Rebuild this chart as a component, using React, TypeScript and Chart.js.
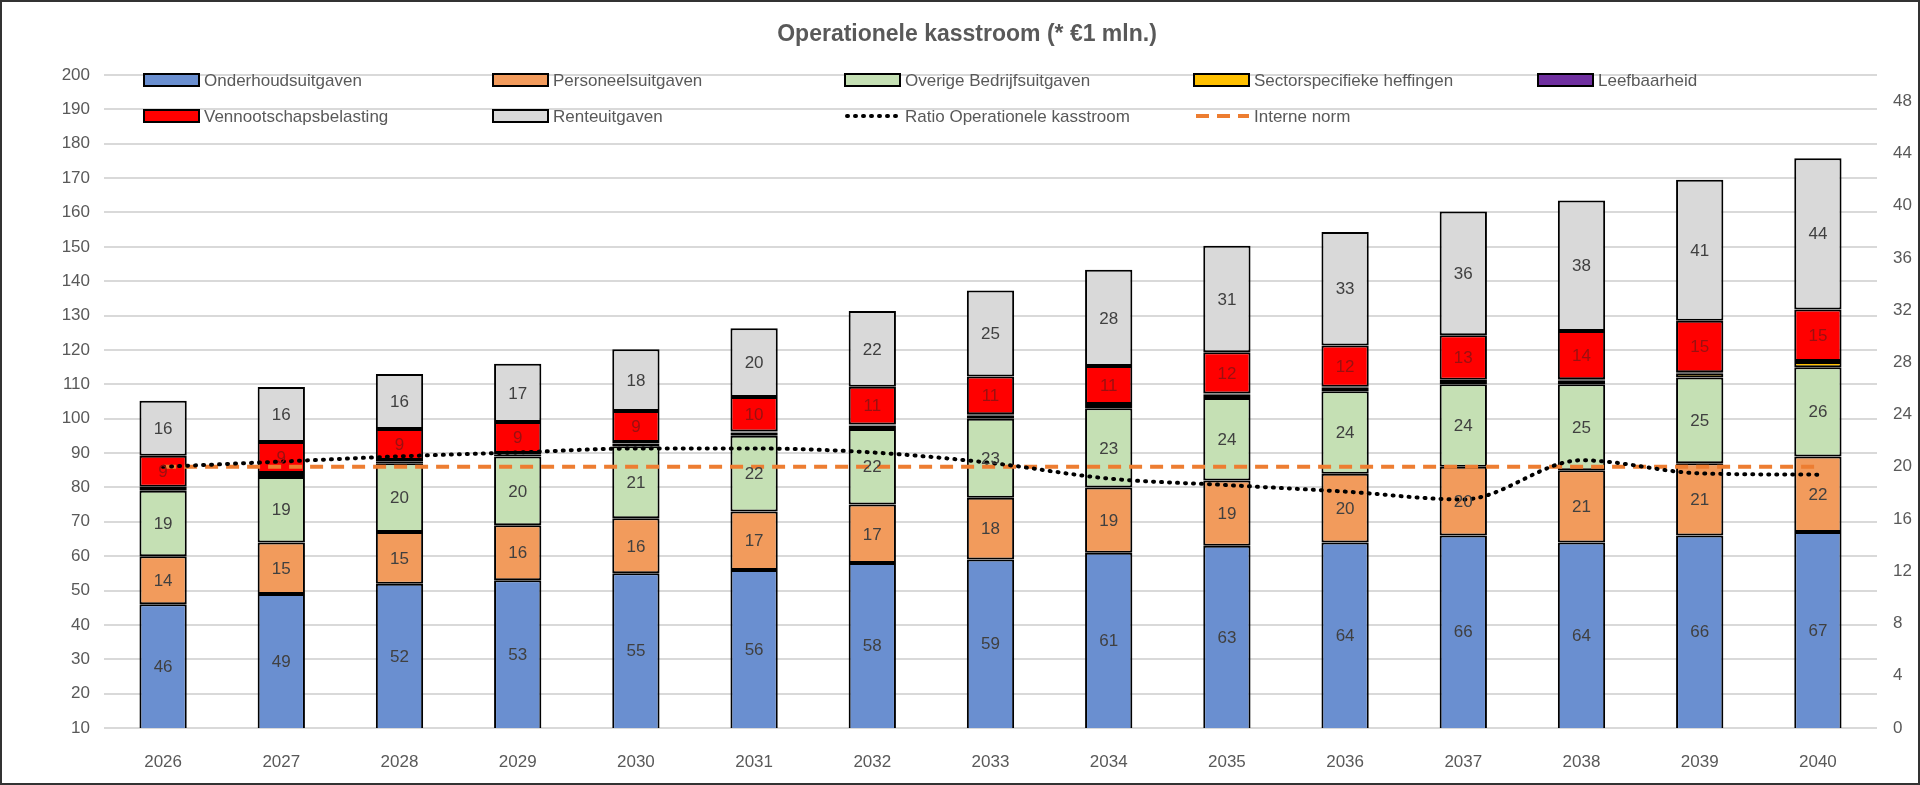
import React, { useEffect, useRef } from "react";
import { Chart, registerables } from "chart.js";
Chart.register(...registerables);

const years = ["2026","2027","2028","2029","2030","2031","2032","2033","2034","2035","2036","2037","2038","2039","2040"];
const onderhoud = [46,49,52,53,55,56,58,59,61,63,64,66,64,66,67];
const personeel = [14,15,15,16,16,17,17,18,19,19,20,20,21,21,22];
const overige = [19,19,20,20,21,22,22,23,23,24,24,24,25,25,26];
const sector = [0.8,0.6,0.5,0.5,0.8,1,1,1,1,1,1,1,1.2,1.2,1.5];
const leefbaarheid = [0.4,0.6,0.5,0.5,0.4,0.3,0.3,0.3,0.3,0.3,0.3,0.3,0.3,0.3,0.3];
const vennootschap = [9,9,9,9,9,10,11,11,11,12,12,13,14,15,15];
const rente = [16,16,16,17,18,20,22,25,28,31,33,36,38,41,44];
const ratio = [20.0,20.4,20.8,21.1,21.4,21.4,21.1,20.3,19.1,18.6,18.1,17.5,20.5,19.5,19.4];
const norm = [20,20,20,20,20,20,20,20,20,20,20,20,20,20,20];
const title = "Operationele kasstroom (* €1 mln.)";

const FONT = "'Liberation Sans Narrow', 'Liberation Sans', Arial, sans-serif";

export default function App() {
  const ref = useRef<HTMLCanvasElement>(null);
  useEffect(() => {
    document.body.style.margin = "0";
    const bar = (label: string, data: number[], color: string, showLabel: boolean, labelColor = "#404040") => ({
      type: "bar" as const, label, data, backgroundColor: color, borderColor: "#000", borderWidth: 2,
      stack: "s", yAxisID: "y", order: 2, barPercentage: 0.8, categoryPercentage: 0.5,
      showLabel, labelColor, borderSkipped: false,
    });
    const datasets: any[] = [
      bar("Onderhoudsuitgaven", onderhoud, "#6a8fd0", true),
      bar("Personeelsuitgaven", personeel, "#f29b5c", true),
      bar("Overige Bedrijfsuitgaven", overige, "#c5e0b4", true),
      bar("Sectorspecifieke heffingen", sector, "#ffc000", false),
      bar("Leefbaarheid", leefbaarheid, "#7030a0", false),
      bar("Vennootschapsbelasting", vennootschap, "#ff0000", true, "#9a1010"),
      bar("Renteuitgaven", rente, "#d9d9d9", true),
      { type: "line", label: "Ratio Operationele kasstroom", data: ratio, yAxisID: "y1", borderColor: "#000",
        borderWidth: 4, borderDash: [1, 7], borderCapStyle: "round", pointRadius: 0, tension: 0.4,
        cubicInterpolationMode: "monotone", order: 0, fill: false },
      { type: "line", label: "Interne norm", data: norm, yAxisID: "y1", borderColor: "#ed7d31",
        borderWidth: 4, borderDash: [13, 8], pointRadius: 0, order: 1, fill: false },
    ];

    const plugin = {
      id: "custom",
      afterDatasetsDraw(chart: any) {
        const ctx = chart.ctx;
        const area = chart.chartArea;
        ctx.save();
        ctx.font = `17px ${FONT}`;
        ctx.textAlign = "center";
        ctx.textBaseline = "middle";
        chart.data.datasets.forEach((ds: any, i: number) => {
          if (!ds.showLabel) return;
          const meta = chart.getDatasetMeta(i);
          meta.data.forEach((el: any, j: number) => {
            const top = Math.max(el.y, area.top);
            const base = Math.min(el.base, area.bottom);
            ctx.fillStyle = ds.labelColor;
            ctx.fillText(String(ds.data[j]), el.x, (top + base) / 2 + 1);
          });
        });
        ctx.restore();
      },
      afterDraw(chart: any) {
        const ctx = chart.ctx;
        ctx.save();
        ctx.font = `bold 23px ${FONT}`;
        ctx.fillStyle = "#595959";
        ctx.textAlign = "center";
        ctx.textBaseline = "middle";
        ctx.fillText(title, 965, 33);
        // legend
        const cols = [142, 491, 843, 1192, 1536];
        const rows = [78, 114];
        ctx.font = `17px ${FONT}`;
        ctx.textAlign = "left";
        chart.data.datasets.forEach((ds: any, i: number) => {
          const x = cols[i % 5];
          const y = rows[Math.floor(i / 5)];
          if (ds.type === "bar") {
            ctx.fillStyle = ds.backgroundColor;
            ctx.fillRect(x, y - 6, 55, 12);
            ctx.strokeStyle = "#000";
            ctx.lineWidth = 2;
            ctx.strokeRect(x, y - 6, 55, 12);
          } else {
            ctx.strokeStyle = ds.borderColor;
            ctx.lineWidth = 4;
            ctx.lineCap = ds.borderCapStyle || "butt";
            ctx.setLineDash(ds.type === "line" && i === 7 ? [1, 7] : [13, 8]);
            ctx.beginPath();
            ctx.moveTo(x + 2, y);
            ctx.lineTo(x + 55, y);
            ctx.stroke();
            ctx.setLineDash([]);
            ctx.lineCap = "butt";
          }
          ctx.fillStyle = "#595959";
          ctx.fillText(ds.label, x + 60, y + 1);
        });
        ctx.restore();
      },
    };

    const chart = new Chart(ref.current!, {
      type: "bar",
      data: { labels: years, datasets },
      options: {
        animation: false,
        responsive: false,
        devicePixelRatio: 1,
        layout: { padding: { top: 73, left: 0, right: 0, bottom: 0 } },
        plugins: { legend: { display: false }, tooltip: { enabled: false }, title: { display: false } },
        scales: {
          x: {
            stacked: true,
            grid: { display: false },
            border: { display: false },
            ticks: { color: "#595959", font: { size: 17, family: FONT }, padding: 16 },
            afterFit: (s: any) => { s.height = 55; },
          },
          y: {
            stacked: true, position: "left", min: 10, max: 200,
            ticks: { stepSize: 10, color: "#595959", font: { size: 17, family: FONT }, padding: 14 },
            grid: { color: "#d9d9d9", lineWidth: 2, drawTicks: false },
            border: { display: false },
            afterFit: (s: any) => { s.width = 102; },
          },
          y1: {
            position: "right", min: 0, max: 50,
            ticks: { stepSize: 4, color: "#595959", font: { size: 17, family: FONT }, padding: 8 },
            afterBuildTicks: (s: any) => { s.ticks = s.ticks.filter((t: any) => t.value % 4 === 0); },
            grid: { display: false },
            border: { display: false },
            afterFit: (s: any) => { s.width = 41; },
          },
        },
      } as any,
      plugins: [plugin],
    });
    return () => chart.destroy();
  }, []);
  return (
    <div style={{ width: 1920, height: 785, boxSizing: "border-box", border: "2px solid #333", background: "#fff" }}>
      <canvas ref={ref} width={1916} height={781} style={{ display: "block" }} />
    </div>
  );
}
